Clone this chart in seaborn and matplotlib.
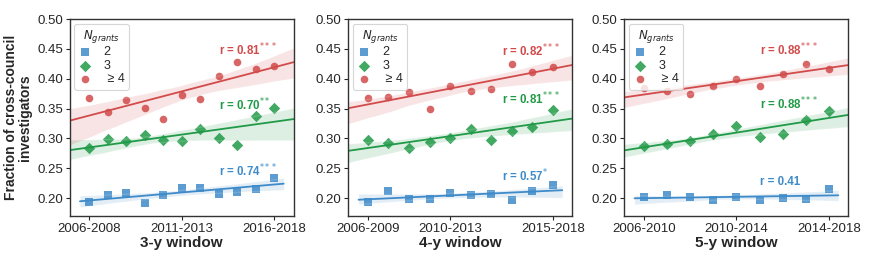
import matplotlib

matplotlib.use("Agg")
import matplotlib.pyplot as plt  # noqa: E402
import numpy as np  # noqa: E402
import pandas as pd  # noqa: E402
import seaborn as sns  # noqa: E402

# ---- data -------------------------------------------------------------------
win3 = ["2006-2008", "2007-2009", "2008-2010", "2009-2011", "2010-2012", "2011-2013",
        "2012-2014", "2013-2015", "2014-2016", "2015-2017", "2016-2018"]
g2_3y = [0.193, 0.205, 0.208, 0.191, 0.205, 0.217, 0.217, 0.207, 0.210, 0.215, 0.234]
g3_3y = [0.284, 0.299, 0.296, 0.305, 0.298, 0.295, 0.316, 0.300, 0.289, 0.337, 0.351]
g4_3y = [0.367, 0.344, 0.364, 0.351, 0.332, 0.373, 0.366, 0.405, 0.428, 0.416, 0.421]

win4 = ["2006-2009", "2007-2010", "2008-2011", "2009-2012", "2010-2013",
        "2011-2014", "2012-2015", "2013-2016", "2014-2017", "2015-2018"]
g2_4y = [0.193, 0.211, 0.199, 0.199, 0.208, 0.205, 0.206, 0.197, 0.212, 0.221]
g3_4y = [0.297, 0.292, 0.284, 0.294, 0.301, 0.316, 0.298, 0.313, 0.319, 0.348]
g4_4y = [0.367, 0.369, 0.377, 0.350, 0.388, 0.379, 0.383, 0.425, 0.412, 0.419]

win5 = ["2006-2010", "2007-2011", "2008-2012", "2009-2013", "2010-2014",
        "2011-2015", "2012-2016", "2013-2017", "2014-2018"]
g2_5y = [0.201, 0.205, 0.202, 0.197, 0.202, 0.197, 0.200, 0.199, 0.215]
g3_5y = [0.288, 0.291, 0.295, 0.307, 0.320, 0.303, 0.307, 0.330, 0.346]
g4_5y = [0.384, 0.379, 0.375, 0.388, 0.399, 0.388, 0.408, 0.425, 0.417]

groups = ["2", "3", " ≥ 4"]
r_labels = {
    "3-y": ["0.74", "0.70", "0.81"],
    "4-y": ["0.57", "0.81", "0.82"],
    "5-y": ["0.41", "0.88", "0.88"],
}
r_stars = {
    "3-y": ["***", "**", "***"],
    "4-y": ["*", "***", "***"],
    "5-y": ["", "***", "***"],
}

panels = [
    ("3-y", win3, [g2_3y, g3_3y, g4_3y], [0, 5, 10]),
    ("4-y", win4, [g2_4y, g3_4y, g4_4y], [0, 4, 9]),
    ("5-y", win5, [g2_5y, g3_5y, g4_5y], [0, 4, 8]),
]

# ---- style ----------------------------------------------------------------
sns.set_theme(style="ticks")
plt.rcParams["font.family"] = ["Liberation Sans", "DejaVu Sans"]

colors = ["#3f8bc9", "#219a48", "#d24b4b"]
markers = ["s", "D", "o"]
sizes = [32, 34, 30]

# text anchor (x in window index, y) for the r labels, per panel
r_pos = {
    "3-y": (7.0, [0.245, 0.356, 0.448]),
    "4-y": (6.5, [0.237, 0.366, 0.447]),
    "5-y": (5.0, [0.226, 0.357, 0.448]),
}

fig = plt.figure(figsize=(8.72, 2.62), dpi=100)
lefts = [0.080, 0.3995, 0.716]
width = 0.257
axes = [fig.add_axes([l, 0.176, width, 0.751]) for l in lefts]

for ax, (name, wins, series, ticks) in zip(axes, panels):
    for k, (vals, col, mk, sz) in enumerate(zip(series, colors, markers, sizes)):
        df = pd.DataFrame({"x": np.arange(len(wins)), "y": vals})
        sns.regplot(data=df, x="x", y="y", ax=ax, color=col, marker=mk,
                    truncate=False, ci=95, n_boot=1000, seed=1,
                    scatter_kws={"s": sz, "alpha": 0.85, "linewidths": 0},
                    line_kws={"linewidth": 1.3}, label=groups[k])
        if k == 0:
            # the first fit widens the window for the following ones
            lo, hi = ax.get_xlim()
            pad = 0.05 * (hi - lo)
            ax.set_xlim(lo - pad, hi + pad)
    ax.set_ylim(0.17, 0.50)
    ax.set_xticks(ticks)
    ax.set_xticklabels([wins[t] for t in ticks])
    yt = [0.20, 0.25, 0.30, 0.35, 0.40, 0.45, 0.50]
    ax.set_yticks(yt)
    ax.set_yticklabels([f"{v:.2f}" for v in yt])
    ax.tick_params(labelsize=9.5, length=3, width=0.8, pad=2)
    for sp in ax.spines.values():
        sp.set_color("#333333")
        sp.set_linewidth(1.0)
    ax.set_xlabel(f"{name} window", fontsize=11, fontweight="bold", labelpad=1)
    ax.set_ylabel("")

    tx, tys = r_pos[name]
    for k in range(3):
        star = r_stars[name][k]
        s = f"r = {r_labels[name][k]}" + (f"$^{{{star}}}$" if star else "")
        ax.text(tx, tys[k], s, color=colors[k], fontsize=8.3, fontweight="bold",
                ha="left", va="center")

    leg = ax.legend(loc="upper left", title="$N_{grants}$", fontsize=9,
                    title_fontsize=8.5, frameon=True, borderpad=0.35,
                    labelspacing=0.12, handletextpad=0.9, markerscale=1.0,
                    handlelength=1.1, borderaxespad=0.35)
    leg.get_frame().set_edgecolor("#cccccc")
    leg.get_frame().set_linewidth(0.8)

axes[0].set_ylabel("Fraction of cross-council\ninvestigators", fontsize=10,
                   fontweight="bold", labelpad=4, linespacing=1.0)

fig.savefig("out.png", dpi=100)
